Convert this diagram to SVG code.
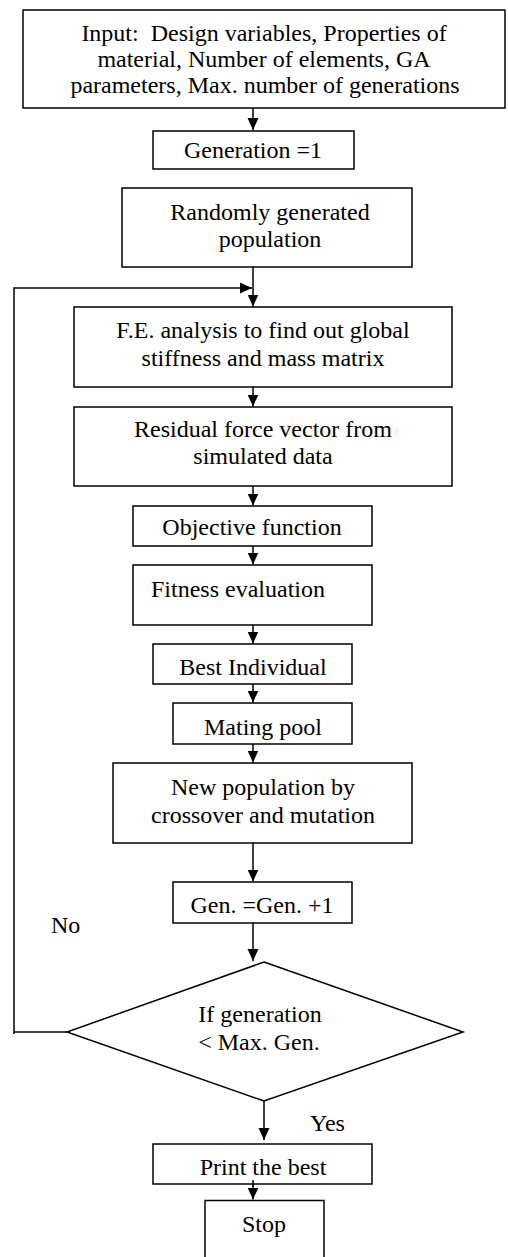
<svg xmlns="http://www.w3.org/2000/svg" width="508" height="1257" viewBox="0 0 508 1257">
<style>
.box{fill:#fff;stroke:#000;stroke-width:1.5}
.t{font-family:"Liberation Serif","Times New Roman",serif;font-size:24px;fill:#000;text-anchor:middle}
.ts{font-family:"Liberation Serif","Times New Roman",serif;font-size:24px;fill:#000;text-anchor:start}
.c{fill:none;stroke:#000;stroke-width:1.5}
</style>
<defs>
<marker id="ah" markerUnits="userSpaceOnUse" markerWidth="13" markerHeight="12" refX="12" refY="5.5" orient="auto">
<path d="M0,0 L12,5.5 L0,11 z" fill="#000"/>
</marker>
</defs>
<rect width="508" height="1257" fill="#fff"/>
<g id="connectors">
<line class="c" x1="253" y1="108" x2="253" y2="130" marker-end="url(#ah)"/>
<line class="c" x1="253" y1="267" x2="253" y2="306.5" marker-end="url(#ah)"/>
<polyline class="c" points="67,1032 14,1032 14,288 252,288" marker-end="url(#ah)"/>
<line class="c" x1="14" y1="1032" x2="14" y2="1034"/>
<line class="c" x1="253" y1="387" x2="253" y2="406.5" marker-end="url(#ah)"/>
<line class="c" x1="253" y1="486" x2="253" y2="505.5" marker-end="url(#ah)"/>
<line class="c" x1="253" y1="546" x2="253" y2="564.5" marker-end="url(#ah)"/>
<line class="c" x1="253" y1="625" x2="253" y2="643.5" marker-end="url(#ah)"/>
<line class="c" x1="253" y1="684" x2="253" y2="702.5" marker-end="url(#ah)"/>
<line class="c" x1="253" y1="744" x2="253" y2="762.5" marker-end="url(#ah)"/>
<line class="c" x1="253" y1="843" x2="253" y2="881.5" marker-end="url(#ah)"/>
<line class="c" x1="253" y1="923" x2="253" y2="961" marker-end="url(#ah)"/>
<line class="c" x1="264" y1="1101" x2="264" y2="1140" marker-end="url(#ah)"/>
<line class="c" x1="253" y1="1180" x2="253" y2="1199.5" marker-end="url(#ah)"/>
</g>
<g id="input">
<rect class="box" x="23" y="10" width="482" height="98"/>
<text class="t" x="264" y="41" xml:space="preserve">Input:  Design variables, Properties of</text>
<text class="t" x="264" y="67">material, Number of elements, GA</text>
<text class="t" x="265" y="93">parameters, Max. number of generations</text>
</g>
<g id="gen1">
<rect class="box" x="153" y="131" width="201" height="38"/>
<text class="t" x="253" y="158">Generation =1</text>
</g>
<g id="random">
<rect class="box" x="122" y="188" width="290" height="79"/>
<text class="t" x="270" y="220">Randomly generated</text>
<text class="t" x="270" y="247">population</text>
</g>
<g id="fe">
<rect class="box" x="74" y="307" width="378" height="80"/>
<text class="t" x="263" y="338">F.E. analysis to find out global</text>
<text class="t" x="263" y="366">stiffness and mass matrix</text>
</g>
<g id="residual">
<rect class="box" x="74" y="407" width="378" height="79"/>
<text class="t" x="263" y="437">Residual force vector from</text>
<text class="t" x="263" y="464">simulated data</text>
</g>
<g id="objective">
<rect class="box" x="133" y="506" width="239" height="40"/>
<text class="t" x="252" y="535">Objective function</text>
</g>
<g id="fitness">
<rect class="box" x="133" y="565" width="239" height="60"/>
<text class="ts" x="151" y="597">Fitness evaluation</text>
</g>
<g id="best">
<rect class="box" x="153" y="644" width="199" height="40"/>
<text class="t" x="253" y="675">Best Individual</text>
</g>
<g id="mating">
<rect class="box" x="173" y="703" width="179" height="41"/>
<text class="t" x="263" y="735">Mating pool</text>
</g>
<g id="newpop">
<rect class="box" x="113" y="763" width="299" height="80"/>
<text class="t" x="263" y="795">New population by</text>
<text class="t" x="263" y="823">crossover and mutation</text>
</g>
<g id="geninc">
<rect class="box" x="173" y="882" width="179" height="41"/>
<text class="t" x="262" y="913">Gen. =Gen. +1</text>
</g>
<g id="decision">
<polygon class="box" points="264,962 463,1032 264,1101 67,1032"/>
<text class="t" x="260" y="1022">If generation</text>
<text class="t" x="259" y="1050">&lt; Max. Gen.</text>
</g>
<g id="labels">
<text class="ts" x="51" y="933">No</text>
<text class="ts" x="310" y="1131">Yes</text>
</g>
<g id="print">
<rect class="box" x="153" y="1144" width="219" height="40"/>
<text class="t" x="263" y="1175">Print the best</text>
</g>
<line class="c" x1="253" y1="1180" x2="253" y2="1187"/>
<g id="stop">
<rect class="box" x="205" y="1200.5" width="119" height="70"/>
<text class="t" x="264" y="1232">Stop</text>
</g>
</svg>
